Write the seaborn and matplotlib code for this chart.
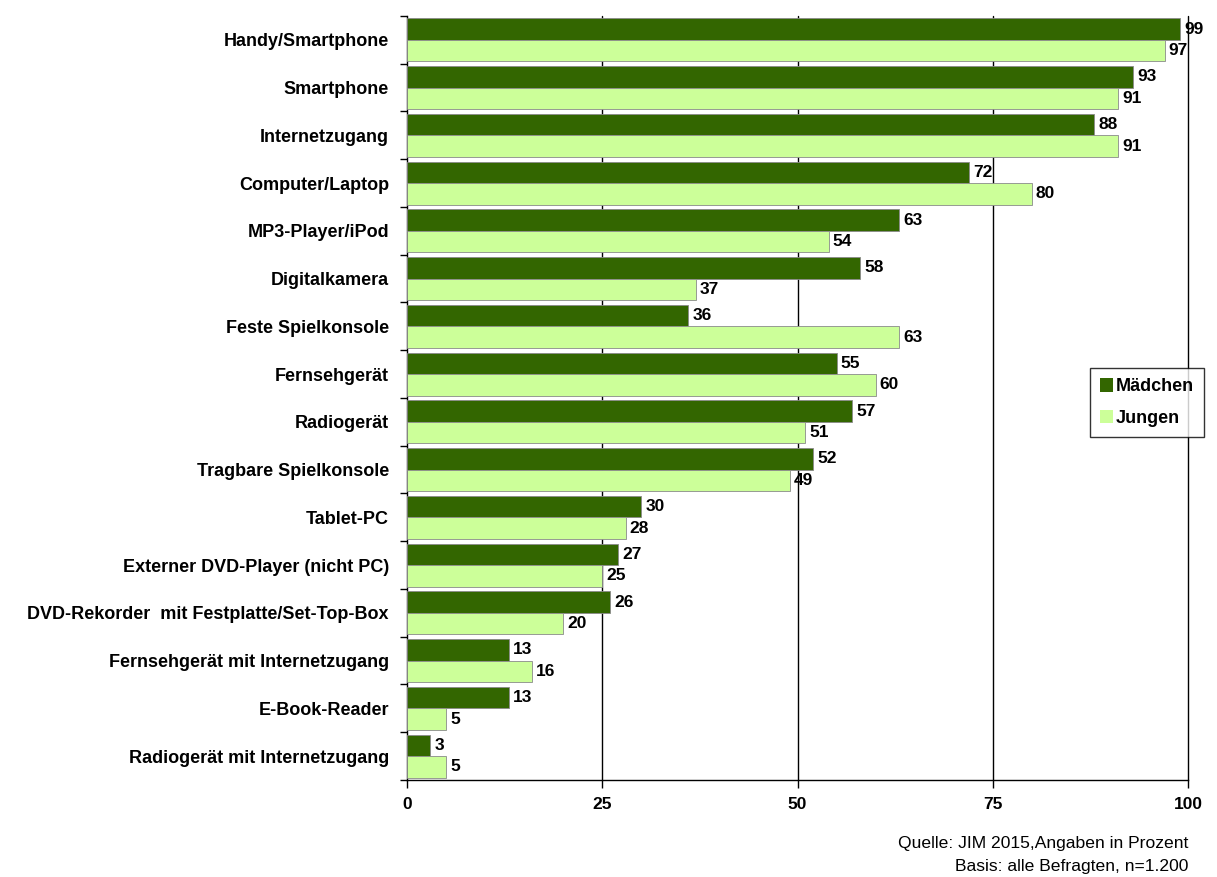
import matplotlib
matplotlib.use("Agg")
import matplotlib.pyplot as plt
import seaborn as sns
import pandas as pd
from matplotlib.patches import Patch

categories = ["Handy/Smartphone", "Smartphone", "Internetzugang", "Computer/Laptop",
              "MP3-Player/iPod", "Digitalkamera", "Feste Spielkonsole", "Fernsehgerät",
              "Radiogerät", "Tragbare Spielkonsole", "Tablet-PC",
              "Externer DVD-Player (nicht PC)", "DVD-Rekorder  mit Festplatte/Set-Top-Box",
              "Fernsehgerät mit Internetzugang", "E-Book-Reader",
              "Radiogerät mit Internetzugang"]
maedchen = [99, 93, 88, 72, 63, 58, 36, 55, 57, 52, 30, 27, 26, 13, 13, 3]
jungen = [97, 91, 91, 80, 54, 37, 63, 60, 51, 49, 28, 25, 20, 16, 5, 5]
series = ["Mädchen", "Jungen"]
xticks = [0, 25, 50, 75, 100]
source_lines = ["Quelle: JIM 2015,Angaben in Prozent", "Basis: alle Befragten, n=1.200"]

sns.set_style("white")
plt.rcParams["font.family"] = ["Liberation Sans", "DejaVu Sans"]
plt.rcParams["text.color"] = "black"
plt.rcParams["xtick.color"] = "black"
plt.rcParams["ytick.color"] = "black"
plt.rcParams["axes.labelcolor"] = "black"

df = pd.DataFrame({
    "Kategorie": categories * 2,
    "Wert": maedchen + jungen,
    "Gruppe": [series[0]] * len(categories) + [series[1]] * len(categories),
})

colors = {"Mädchen": "#336600", "Jungen": "#CCFF99"}

fig = plt.figure(figsize=(12.17, 8.77), dpi=100)
ax = fig.add_axes([0.3344, 0.1106, 0.6418, 0.8712])

sns.barplot(data=df, y="Kategorie", x="Wert", hue="Gruppe", order=categories,
            hue_order=series, palette=colors, orient="h", width=0.9, saturation=1,
            edgecolor="#8a8a8a", linewidth=0.6, legend=False, ax=ax, zorder=3)

ax.set_xlim(0, 100)
ax.set_ylim(len(categories) - 0.5, -0.5)
ax.set_xlabel("")
ax.set_ylabel("")
ax.set_xticks(xticks)
ax.set_xticklabels([str(t) for t in xticks], fontsize=12.5, fontweight="bold")
for t in xticks[1:]:
    ax.axvline(t, color="black", linewidth=1.0, zorder=1, clip_on=False)

# category labels at centers, ticks at boundaries
ax.set_yticks(range(len(categories)))
ax.set_yticklabels(categories, fontsize=13, fontweight="bold")
ax.tick_params(axis="y", which="major", left=True, length=0, pad=13)
ax.set_yticks([i - 0.5 for i in range(len(categories) + 1)], minor=True)
ax.tick_params(axis="y", which="minor", left=True, length=5, width=1, color="black",
               direction="out")
ax.tick_params(axis="x", which="major", bottom=True, length=6, width=1, color="black",
               direction="out", pad=6)

for s in ["top", "right"]:
    ax.spines[s].set_visible(False)
for s in ["left", "bottom"]:
    ax.spines[s].set_color("black")
    ax.spines[s].set_linewidth(1.0)

# value labels
for cont in ax.containers:
    ax.bar_label(cont, fmt="%d", padding=3, fontsize=12.5, fontweight="bold", color="black")

handles = [Patch(facecolor=colors[s], edgecolor="none", label=s) for s in series]
leg = fig.legend(handles=handles, loc="center left", bbox_to_anchor=(0.8956, 0.541),
                 frameon=True, fancybox=False, edgecolor="black",
                 prop={"weight": "bold", "size": 13}, handlelength=0.75, handleheight=0.75,
                 handletextpad=0.15, borderpad=0.55, labelspacing=0.8, borderaxespad=0)
leg.get_frame().set_linewidth(1.0)

fig.text(0.9762, 0.0385, source_lines[0], ha="right", va="center", fontsize=12.6)
fig.text(0.9762, 0.012, source_lines[1], ha="right", va="center", fontsize=12.6)

fig.savefig("out.png", dpi=100)
